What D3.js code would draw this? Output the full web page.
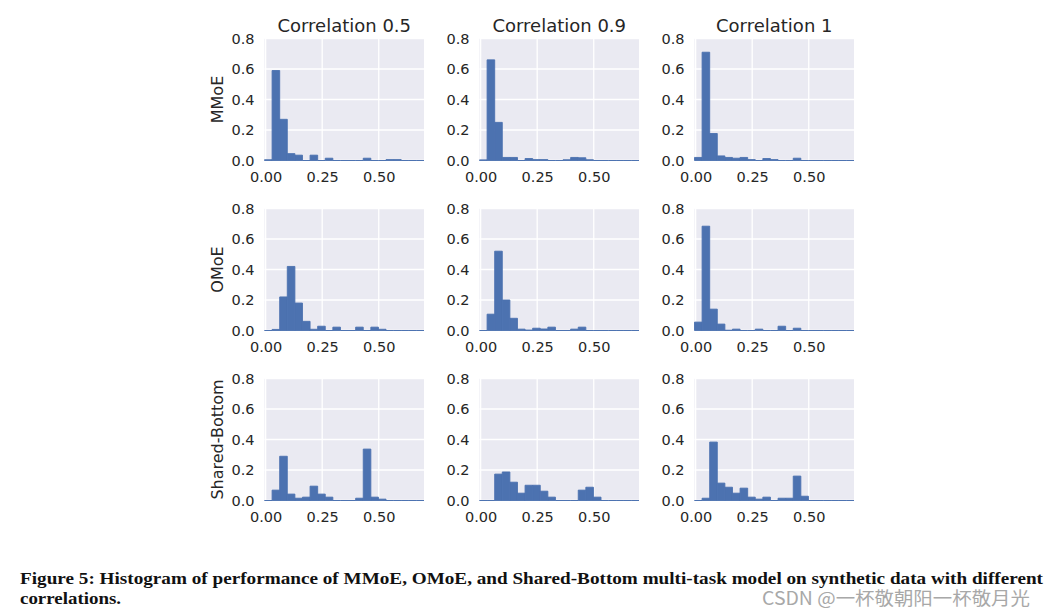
<!DOCTYPE html>
<html>
<head>
<meta charset="utf-8">
<script src="https://cdn.jsdelivr.net/npm/d3@7/dist/d3.min.js"></script>
<style>
  html, body { margin: 0; padding: 0; background: #ffffff; }
  svg { display: block; }
</style>
</head>
<body>
<svg id="chart" width="1050" height="614"></svg>
<script>
// ---------------- data ----------------
const rowNames = ["MMoE", "OMoE", "Shared-Bottom"];
const colNames = ["Correlation 0.5", "Correlation 0.9", "Correlation 1"];
const xTicks = [0, 0.25, 0.5];
const yTicks = [0, 0.2, 0.4, 0.6, 0.8];
const histMin = -0.005;   // left edge of first bin
const histMax = 0.7;      // right edge of last bin
const yMax = 0.8;

// bin heights (21 equal bins from histMin to histMax)
const mmoe05 = [0.005, 0.59, 0.27, 0.045, 0.035, 0, 0.035, 0, 0.015, 0, 0, 0, 0, 0.015, 0, 0, 0.006, 0.006, 0, 0, 0];
const mmoe09 = [0.004, 0.66, 0.25, 0.02, 0.02, 0, 0.013, 0.006, 0.006, 0, 0, 0.005, 0.02, 0.018, 0.005, 0, 0, 0, 0, 0, 0];
const mmoe1  = [0.02, 0.71, 0.177, 0.03, 0.02, 0.015, 0.02, 0.006, 0, 0.013, 0.006, 0, 0, 0.015, 0, 0, 0, 0, 0, 0, 0];
const omoe05 = [0, 0.007, 0.22, 0.42, 0.18, 0.06, 0.008, 0.028, 0, 0.022, 0, 0, 0.022, 0, 0.022, 0.008, 0, 0, 0, 0, 0];
const omoe09 = [0, 0.107, 0.52, 0.2, 0.08, 0.009, 0.003, 0.015, 0.01, 0.022, 0, 0, 0.009, 0.022, 0, 0, 0, 0, 0, 0, 0];
const omoe1  = [0.055, 0.684, 0.14, 0.042, 0.002, 0.009, 0, 0, 0.009, 0, 0, 0.028, 0, 0.015, 0, 0, 0, 0, 0, 0, 0];
const sb05   = [0, 0.068, 0.29, 0.042, 0.015, 0.022, 0.094, 0.042, 0.022, 0, 0, 0, 0.015, 0.337, 0.022, 0.009, 0, 0, 0, 0, 0];
const sb09   = [0, 0, 0.173, 0.187, 0.12, 0.048, 0.1, 0.1, 0.061, 0.022, 0, 0, 0, 0.068, 0.087, 0.022, 0, 0, 0, 0, 0];
const sb1    = [0, 0.015, 0.383, 0.114, 0.087, 0.048, 0.081, 0.022, 0.009, 0.022, 0, 0.015, 0.015, 0.16, 0.028, 0, 0, 0, 0, 0, 0];

const panels = [
  [mmoe05, mmoe09, mmoe1],
  [omoe05, omoe09, omoe1],
  [sb05, sb09, sb1]
];

const captionLine1 = "Figure 5: Histogram of performance of MMoE, OMoE, and Shared-Bottom multi-task model on synthetic data with different";
const captionLine2 = "correlations.";
const watermark = "CSDN @一杯敬朝阳一杯敬月光";

// ---------------- layout ----------------
const left0 = 264.5, colStep = 215, pw = 159.5;
const top0 = 38.5, rowStep = 170, ph = 122;
const barColor = "#4c72b0";
const bgColor = "#eaeaf2";
const textColor = "#262626";
const font = "DejaVu Sans, sans-serif";

const svg = d3.select("#chart");

panels.forEach((row, r) => {
  row.forEach((counts, c) => {
    const x0 = left0 + c * colStep;
    const y0 = top0 + r * rowStep;
    const g = svg.append("g").attr("transform", `translate(${x0},${y0})`);

    const xs = d3.scaleLinear().domain([histMin, histMax]).range([0, pw]);
    const ys = d3.scaleLinear().domain([0, yMax]).range([ph, 0]);

    g.append("rect").attr("width", pw).attr("height", ph).attr("fill", bgColor);

    // grid
    g.selectAll("line.gy").data(yTicks).join("line")
      .attr("x1", 0).attr("x2", pw)
      .attr("y1", d => ys(d)).attr("y2", d => ys(d))
      .attr("stroke", "#ffffff").attr("stroke-width", 1.3);
    g.selectAll("line.gx").data(xTicks).join("line")
      .attr("y1", 0).attr("y2", ph)
      .attr("x1", d => xs(d)).attr("x2", d => xs(d))
      .attr("stroke", "#ffffff").attr("stroke-width", 1.3);

    // bars
    const bw = (histMax - histMin) / counts.length;
    g.selectAll("path.bar").data(counts).join("path")
      .attr("class", "bar")
      .attr("d", (v, i) => {
        const a = xs(histMin + i * bw), b = xs(histMin + (i + 1) * bw);
        const p = d3.path();
        p.moveTo(a, ys(0)); p.lineTo(a, ys(v)); p.lineTo(b, ys(v)); p.lineTo(b, ys(0)); p.closePath();
        return p.toString();
      })
      .attr("fill", barColor).attr("stroke", barColor).attr("stroke-width", 0.9);

    // y axis labels
    const yAxis = d3.axisLeft(ys).tickValues(yTicks).tickFormat(d3.format(".1f")).tickSize(0).tickPadding(10);
    const ya = g.append("g").call(yAxis);
    ya.select(".domain").remove();
    ya.selectAll("text").attr("font-family", font).attr("font-size", 14.5).attr("fill", textColor);

    // x axis labels
    const xAxis = d3.axisBottom(xs).tickValues(xTicks).tickFormat(d3.format(".2f")).tickSize(0).tickPadding(11);
    const xa = g.append("g").attr("transform", `translate(0,${ph})`).call(xAxis);
    xa.select(".domain").remove();
    xa.selectAll("text").attr("font-family", font).attr("font-size", 14.5).attr("fill", textColor);

    if (r === 0) {
      g.append("text").attr("x", pw / 2).attr("y", -7)
        .attr("text-anchor", "middle").attr("font-family", font).attr("font-size", 18)
        .attr("fill", textColor).text(colNames[c]);
    }
    if (c === 0) {
      g.append("text")
        .attr("transform", `translate(${-47.5},${ph / 2}) rotate(-90)`)
        .attr("text-anchor", "middle").attr("dominant-baseline", "central")
        .attr("font-family", font).attr("font-size", 16)
        .attr("fill", textColor).text(rowNames[r]);
    }
  });
});

// caption
svg.append("text").attr("x", 20).attr("y", 584)
  .attr("font-family", "Liberation Serif, serif").attr("font-weight", "bold").attr("font-size", 16.5)
  .attr("fill", "#111").attr("textLength", 1023).attr("lengthAdjust", "spacingAndGlyphs")
  .text(captionLine1);
svg.append("text").attr("x", 20).attr("y", 604)
  .attr("font-family", "Liberation Serif, serif").attr("font-weight", "bold").attr("font-size", 16.5)
  .attr("fill", "#111").attr("textLength", 101).attr("lengthAdjust", "spacingAndGlyphs")
  .text(captionLine2);

// watermark
svg.append("text").attr("x", 762).attr("y", 605)
  .attr("font-family", "Noto Sans CJK SC, sans-serif").attr("font-size", 18)
  .attr("fill", "#a8a8a8").attr("textLength", 268).attr("lengthAdjust", "spacingAndGlyphs")
  .text(watermark);
</script>
</body>
</html>
